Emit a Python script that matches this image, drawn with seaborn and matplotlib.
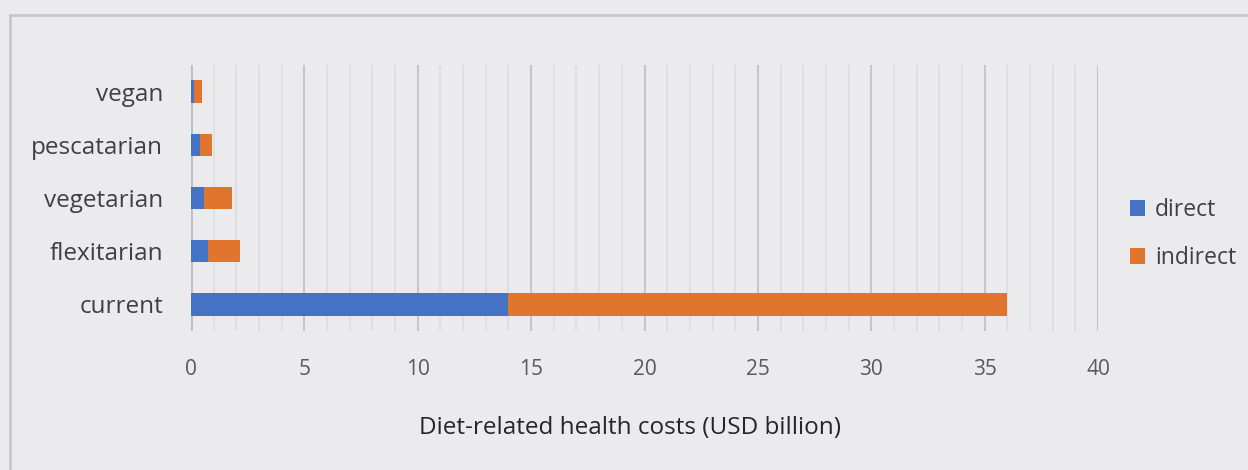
import matplotlib
matplotlib.use("Agg")
import matplotlib.pyplot as plt
from matplotlib.lines import Line2D
from matplotlib.patches import Patch
from matplotlib.ticker import MultipleLocator
import seaborn as sns
import pandas as pd

categories = ["vegan", "pescatarian", "vegetarian", "flexitarian", "current"]
direct = [0.12, 0.40, 0.56, 0.74, 14.0]
indirect = [0.36, 0.51, 1.25, 1.42, 22.0]
xticks = [0, 5, 10, 15, 20, 25, 30, 35, 40]
xlabel = "Diet-related health costs (USD billion)"
series_names = ["direct", "indirect"]

BG = "#EBEBED"
BLUE = "#4472C4"
ORANGE = "#E2752D"

sns.set_theme(style="white")
plt.rcParams["font.family"] = ["Open Sans", "DejaVu Sans"]

df = pd.DataFrame({"category": categories, "direct": direct, "indirect": indirect})
df["total"] = df["direct"] + df["indirect"]

fig = plt.figure(figsize=(12.48, 4.70), dpi=100, facecolor=BG)
ax = fig.add_axes([191 / 1248, 1 - 331 / 470, (1098 - 191) / 1248, (331 - 65) / 470])
ax.set_facecolor(BG)

sns.barplot(data=df, y="category", x="total", order=categories, color=ORANGE,
            width=0.42, orient="h", ax=ax, saturation=1, zorder=3, linewidth=0)
sns.barplot(data=df, y="category", x="direct", order=categories, color=BLUE,
            width=0.42, orient="h", ax=ax, saturation=1, zorder=4, linewidth=0)

ax.set_xlim(0, 40)
ax.set_ylim(4.5, -0.5)
ax.set_xticks(xticks)
ax.xaxis.set_minor_locator(MultipleLocator(1))
ax.grid(axis="x", which="minor", color="#DCDCDE", linewidth=1.1, zorder=0)
ax.grid(axis="x", which="major", color="#C6C6C8", linewidth=1.5, zorder=1)
ax.axvline(0, color="#BDBDBF", linewidth=2.0, zorder=2)
for s in ax.spines.values():
    s.set_visible(False)
ax.tick_params(axis="x", which="both", length=0, pad=20, labelsize=15, labelcolor="#595959")
ax.tick_params(axis="y", length=0, pad=20, labelsize=17.5, labelcolor="#404040")
ax.set_ylabel("")
ax.set_xlabel(xlabel, fontsize=17.5, color="#262626")
ax.xaxis.set_label_coords((630 - 191) / (1098 - 191), -(428 - 331) / (331 - 65))
ax.xaxis.label.set_verticalalignment("center")

# outer chart frame
fig.add_artist(Line2D([10 / 1248, 1.0], [1 - 15 / 470, 1 - 15 / 470],
                      transform=fig.transFigure, color="#C9C9CB", linewidth=2))
fig.add_artist(Line2D([10 / 1248, 10 / 1248], [0, 1 - 15 / 470],
                      transform=fig.transFigure, color="#C9C9CB", linewidth=2))

handles = [Patch(facecolor=BLUE, edgecolor="none"), Patch(facecolor=ORANGE, edgecolor="none")]
fig.legend(handles, series_names, loc="center left",
           bbox_to_anchor=(1114 / 1248, 1 - 234 / 470), frameon=False,
           fontsize=16.5, labelcolor="#404040", handlelength=0.65, handleheight=0.65,
           handletextpad=0.45, labelspacing=1.05, borderpad=0.2)

fig.savefig("out.png", dpi=100, facecolor=BG)
